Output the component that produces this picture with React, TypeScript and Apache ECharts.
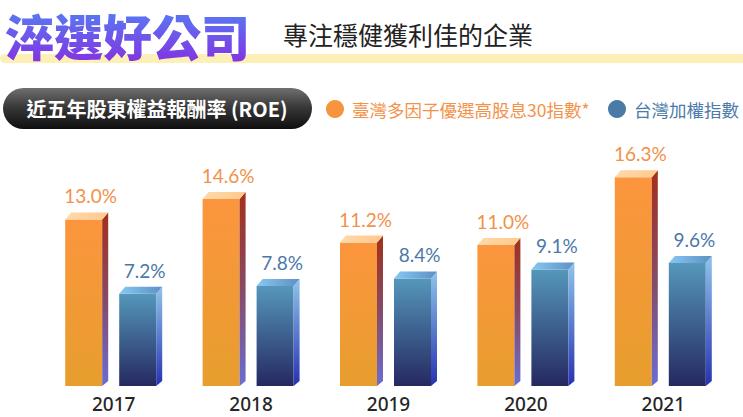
import React, { useEffect, useRef } from "react";
import * as echarts from "echarts";

const years = ["2017", "2018", "2019", "2020", "2021"];
const highDividendRoe = [13.0, 14.6, 11.2, 11.0, 16.3];
const taiexRoe = [7.2, 7.8, 8.4, 9.1, 9.6];
const seriesNames = ["臺灣多因子優選高股息30指數*", "台灣加權指數"];
const titleText = "淬選好公司";
const subtitleText = "專注穩健獲利佳的企業";
const pillText = "近五年股東權益報酬率 (ROE)";

const CJK = '"Noto Sans CJK TC", "Noto Sans", sans-serif';
const NUM = 'Lato, "Noto Sans", sans-serif';

const LG = (stops: [number, string][]) =>
  new echarts.graphic.LinearGradient(0, 0, 0, 1, stops.map(([offset, color]) => ({ offset, color })));

const barStyles = [
  {
    offset: -48.5,
    front: () => LG([[0, "#FC953E"], [1, "#E79E2D"]]),
    side: () => LG([[0, "#A3301A"], [0.5, "#874A66"], [1, "#6A6DD2"]]),
    top: () => new echarts.graphic.LinearGradient(0, 0, 1, 0, [{ offset: 0, color: "#FFD9AA" }, { offset: 1, color: "#FFC98C" }]),
    label: "#F2914A",
  },
  {
    offset: 5.5,
    front: () => LG([[0, "#5597BA"], [1, "#252861"]]),
    side: () => LG([[0, "#8FC5EA"], [1, "#2632B2"]]),
    top: () => new echarts.graphic.LinearGradient(0, 0, 1, 0, [{ offset: 0, color: "#86C8F2" }, { offset: 1, color: "#5E8FC4" }]),
    label: "#4B78A8",
  },
];

function makeRender(k: number) {
  const st = barStyles[k];
  return (params: any, api: any) => {
    const idx = api.value(0);
    const v = api.value(1);
    const top = api.coord([idx, v]);
    const base = api.coord([idx, 0]);
    const w = 37, d = 6, h = 7;
    const x0 = top[0] + st.offset;
    const yT = top[1];
    const yB = base[1];
    return {
      type: "group",
      children: [
        { type: "rect", shape: { x: x0, y: yT, width: w, height: yB - yT }, style: { fill: st.front() } },
        {
          type: "polygon",
          shape: { points: [[x0 + w, yT], [x0 + w + d, yT - h], [x0 + w + d, yB - 5], [x0 + w, yB]] },
          style: { fill: st.side() },
        },
        {
          type: "polygon",
          shape: { points: [[x0, yT], [x0 + w, yT], [x0 + w + d, yT - h], [x0 + d, yT - h]] },
          style: { fill: st.top() },
        },
        {
          type: "text",
          x: x0 + w / 2 + 7,
          y: yT - h - 7,
          style: {
            text: v.toFixed(1) + "%",
            fill: st.label,
            fontSize: 19,
            fontFamily: NUM,
            align: "center",
            textAlign: "center",
            verticalAlign: "bottom",
            textVerticalAlign: "bottom",
          },
        },
      ],
    };
  };
}

export default function App() {
  const ref = useRef<HTMLDivElement>(null);
  useEffect(() => {
    if (!ref.current) return;
    const chart = echarts.init(ref.current, null, { renderer: "svg" });
    const legendColors = ["#F7943E", "#4A7BA7"];
    const legendTextColors = ["#F3924A", "#4A7AA9"];
    const legendX = [335, 617];
    chart.setOption({
      animation: false,
      backgroundColor: "#ffffff",
      grid: { left: 45, right: 11, top: 126, bottom: 31 },
      xAxis: {
        type: "category",
        data: years,
        axisLine: { show: false },
        axisTick: { show: false },
        axisLabel: { color: "#262626", fontSize: 19, fontWeight: 500, fontFamily: '"Noto Sans", sans-serif', margin: 8 },
      },
      yAxis: { type: "value", min: 0, max: 20.3, show: false },
      series: [
        {
          name: seriesNames[0],
          type: "custom",
          renderItem: makeRender(0),
          encode: { x: 0, y: 1 },
          data: years.map((_, i) => [i, highDividendRoe[i]]),
        },
        {
          name: seriesNames[1],
          type: "custom",
          renderItem: makeRender(1),
          encode: { x: 0, y: 1 },
          data: years.map((_, i) => [i, taiexRoe[i]]),
        },
      ],
      graphic: [
        {
          type: "rect",
          shape: { x: 0, y: 54, width: 743, height: 9, r: [4.5, 0, 0, 4.5] },
          style: { fill: "#FDF0B6" },
          z: 1,
        },
        {
          type: "text",
          x: 5,
          y: 34.5,
          z: 2,
          style: {
            text: titleText,
            fontSize: 49,
            lineHeight: 50,
            fontWeight: 900,
            fontFamily: CJK,
            fill: "#6A5BEB",
            verticalAlign: "middle",
            textVerticalAlign: "middle",
          },
        },
        {
          type: "text",
          x: 283,
          y: 34,
          z: 2,
          style: {
            text: subtitleText,
            fontSize: 25,
            fontFamily: CJK,
            fill: "#222222",
            verticalAlign: "middle",
            textVerticalAlign: "middle",
          },
        },
        {
          type: "rect",
          shape: { x: 3, y: 88, width: 309, height: 41, r: 20.5 },
          style: { fill: LG([[0, "#707070"], [0.45, "#3a3a3a"], [1, "#0E0E0E"]]) },
          z: 2,
        },
        {
          type: "text",
          x: 157,
          y: 108.5,
          z: 3,
          style: {
            text: pillText,
            fontSize: 20,
            fontWeight: "bold",
            fontFamily: CJK,
            fill: "#ffffff",
            align: "center",
            textAlign: "center",
            verticalAlign: "middle",
            textVerticalAlign: "middle",
          },
        },
        ...seriesNames.flatMap((name, i) => [
          {
            type: "circle",
            shape: { cx: legendX[i], cy: 109, r: 9 },
            style: { fill: legendColors[i] },
            z: 2,
          },
          {
            type: "text",
            x: legendX[i] + 17,
            y: 109,
            z: 2,
            style: {
              text: name,
              fontSize: 17.5,
              fontFamily: CJK,
              fill: legendTextColors[i],
              verticalAlign: "middle",
              textVerticalAlign: "middle",
            },
          },
        ]),
      ],
    });
    // apply a vertical gradient to the title glyphs (zrender Text drops gradient fills)
    try {
      const zr: any = chart.getZr();
      const grad = new echarts.graphic.LinearGradient(0, 0, 0, 1, [
        { offset: 0, color: "#4C8BF7" },
        { offset: 1, color: "#8B28DF" },
      ]);
      zr.storage.getDisplayList(true).forEach((el: any) => {
        if (el.type === "tspan" && el.style && el.style.text === titleText) {
          el.setStyle("fill", grad);
        }
      });
      zr.refreshImmediately();
    } catch (e) {
      /* keep solid colour */
    }
    return () => chart.dispose();
  }, []);
  return (
    <div
      ref={ref}
      style={{ position: "fixed", left: 0, top: 0, width: 743, height: 417 }}
    />
  );
}
